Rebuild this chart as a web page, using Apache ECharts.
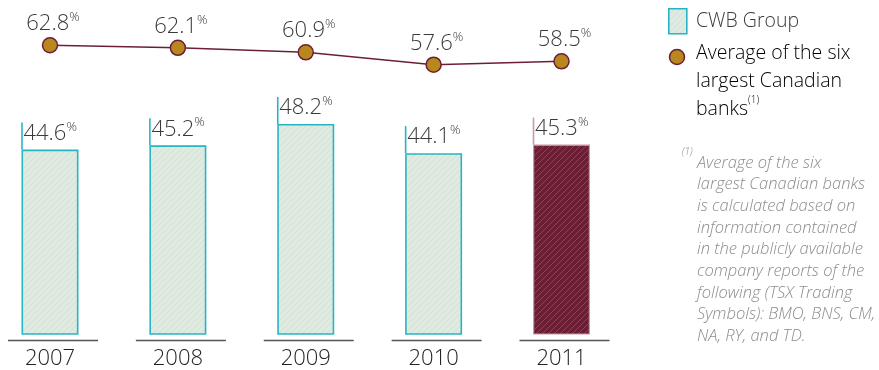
<!DOCTYPE html>
<html>
<head>
<meta charset="utf-8">
<script src="https://cdn.jsdelivr.net/npm/echarts@6/dist/echarts.min.js"></script>
<style>
  html, body { margin: 0; padding: 0; background: #ffffff; }
  #chart { width: 879px; height: 370px; }
</style>
</head>
<body>
<div id="chart"></div>
<script>
// ---- data ----
const years = ['2007', '2008', '2009', '2010', '2011'];
const cwbGroup = [44.6, 45.2, 48.2, 44.1, 45.3];
const sixBanksAvg = [62.8, 62.1, 60.9, 57.6, 58.5];
const legendNames = ['CWB Group', 'Average of the six largest Canadian banks'];
const footnoteLines = [
  'Average of the six',
  'largest Canadian banks',
  'is calculated based on',
  'information contained',
  'in the publicly available',
  'company reports of the',
  'following (TSX Trading',
  'Symbols): BMO, BNS, CM,',
  'NA, RY, and TD.'
];

// ---- styles ----
const FONT = "'Open Sans', 'Noto Sans', sans-serif";
const CYAN = '#27b5c4';
const MAROON = '#6c1f34';
const GOLD = '#b8871d';
const TEXT = '#3a3a3a';
const BAR_MIN = 18.7, BAR_MAX = 64.2;
const LINE_MIN = -14.3, LINE_MAX = 72.2;
const BAR_W = 57;

function stripes(bg, fg, size, lw) {
  const c = document.createElement('canvas');
  c.width = size; c.height = size;
  const g = c.getContext('2d');
  g.fillStyle = bg; g.fillRect(0, 0, size, size);
  g.strokeStyle = fg; g.lineWidth = lw;
  g.beginPath();
  g.moveTo(0, size); g.lineTo(size, 0);
  g.moveTo(-size / 2, size / 2); g.lineTo(size / 2, -size / 2);
  g.moveTo(size / 2, size * 1.5); g.lineTo(size * 1.5, size / 2);
  g.stroke();
  return { image: c, repeat: 'repeat' };
}
const greenPattern = stripes('#dfeae1', '#cbe3dd', 6, 1);
const maroonPattern = stripes('#6c1f34', '#8a4457', 6, 1);

const richNum = {
  v: { fontFamily: FONT, fontWeight: 300, fontSize: 22, lineHeight: 26, color: TEXT },
  p: { fontFamily: FONT, fontWeight: 300, fontSize: 13, lineHeight: 19, verticalAlign: 'top', color: TEXT }
};

const chart = echarts.init(document.getElementById('chart'), null, { renderer: 'canvas' });

const option = {
  animation: false,
  backgroundColor: '#ffffff',
  textStyle: { fontFamily: FONT },
  grid: { left: 50, right: 317.5, top: 10, bottom: 35.5, containLabel: false },
  xAxis: {
    type: 'category',
    data: years,
    boundaryGap: false,
    axisLine: { show: false },
    axisTick: { show: false },
    splitLine: { show: false },
    axisLabel: { margin: 14, fontFamily: FONT, fontWeight: 300, fontSize: 22, color: '#222222' }
  },
  yAxis: [
    { type: 'value', min: BAR_MIN, max: BAR_MAX, show: false, splitLine: { show: false } },
    { type: 'value', min: LINE_MIN, max: LINE_MAX, show: false, splitLine: { show: false } }
  ],
  series: [
    {
      name: legendNames[0],
      type: 'bar',
      yAxisIndex: 0,
      startValue: BAR_MIN,
      barWidth: BAR_W,
      data: cwbGroup.map((v, i) => ({
        value: v,
        itemStyle: i === cwbGroup.length - 1
          ? { color: maroonPattern, borderColor: '#c79aa6', borderWidth: 1.2 }
          : { color: greenPattern, borderColor: CYAN, borderWidth: 1.6 }
      })),
      label: {
        show: true,
        position: [2, -29],
        align: 'left',
        verticalAlign: 'top',
        formatter: p => '{v|' + p.value.toFixed(1) + '}{p|%}',
        rich: richNum
      },
      z: 2
    },
    {
      type: 'custom',
      yAxisIndex: 0,
      data: cwbGroup.map((v, i) => [i, v]),
      silent: true,
      z: 3,
      renderItem: function (params, api) {
        const i = api.value(0);
        const top = api.coord([i, api.value(1)]);
        const base = api.coord([i, BAR_MIN]);
        const last = i === cwbGroup.length - 1;
        const lx = top[0] - BAR_W / 2 + 0.5;
        return {
          type: 'group',
          children: [
            {
              type: 'line',
              shape: { x1: lx, y1: top[1], x2: lx, y2: top[1] - 27 },
              style: { stroke: last ? '#c79aa6' : CYAN, lineWidth: 1.6 }
            },
            {
              type: 'line',
              shape: { x1: base[0] - 42, y1: base[1] + 6.5, x2: base[0] + 48, y2: base[1] + 6.5 },
              style: { stroke: '#555555', lineWidth: 1.5 }
            }
          ]
        };
      }
    },
    {
      name: legendNames[1],
      type: 'line',
      yAxisIndex: 1,
      data: sixBanksAvg,
      symbol: 'circle',
      symbolSize: 15,
      lineStyle: { color: MAROON, width: 1.5 },
      itemStyle: { color: GOLD, borderColor: MAROON, borderWidth: 1.5 },
      label: {
        show: true,
        position: 'top',
        distance: 0,
        offset: [3, 0],
        formatter: p => '{v|' + p.value.toFixed(1) + '}{p|%}',
        rich: richNum
      },
      z: 4
    }
  ],
  graphic: [
    // legend
    {
      type: 'rect', left: 668, top: 8,
      shape: { width: 18, height: 25 },
      style: { fill: greenPattern, stroke: CYAN, lineWidth: 1.6 }
    },
    {
      type: 'text', left: 696, top: 8,
      style: { text: legendNames[0], font: '300 19.5px ' + FONT, fill: TEXT, lineHeight: 26 }
    },
    {
      type: 'circle', shape: { cx: 677, cy: 57, r: 7.5 },
      style: { fill: GOLD, stroke: MAROON, lineWidth: 1.5 }
    },
    {
      type: 'text', left: 696, top: 43,
      style: {
        text: '{t|Average of the six}\n{t|largest Canadian}\n{t|banks}{s|(1)}',
        rich: {
          t: { fontFamily: FONT, fontWeight: 300, fontSize: 19.5, lineHeight: 28, color: TEXT },
          s: { fontFamily: FONT, fontWeight: 300, fontSize: 10, lineHeight: 22, verticalAlign: 'top', color: TEXT }
        }
      }
    },
    // footnote
    {
      type: 'text', left: 682, top: 147,
      style: { text: '(1)', font: 'italic 300 10px ' + FONT, fill: '#8c8c8c' }
    },
    {
      type: 'text', left: 697, top: 152,
      style: { text: footnoteLines.join('\n'), font: 'italic 300 16.5px ' + FONT, fill: '#8c8c8c', lineHeight: 21.7 }
    }
  ]
};

chart.setOption(option);
</script>
</body>
</html>
